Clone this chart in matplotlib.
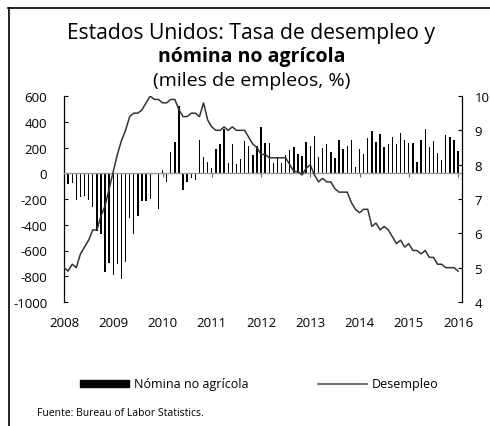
import matplotlib
matplotlib.use('Agg')
import matplotlib.pyplot as plt
from matplotlib.lines import Line2D
from matplotlib.patches import Patch
import numpy as np

plt.rcParams['font.family'] = ['Open Sans', 'DejaVu Sans']
plt.rcParams['axes.unicode_minus'] = False

# Monthly data, Jan 2008 - Jan 2016
year_ticks = [2008, 2009, 2010, 2011, 2012, 2013, 2014, 2015, 2016]
left_ticks = [-1000, -800, -600, -400, -200, 0, 200, 400, 600]
right_ticks = [4, 5, 6, 7, 8, 9, 10]

# Nómina no agrícola (miles de empleos, cambio mensual)
nomina = [
    17, -84, -78, -211, -184, -178, -210, -259, -452, -474, -765, -697,      # 2008
    -791, -703, -823, -686, -351, -470, -329, -212, -219, -200, -7, -279,    # 2009
    28, -69, 163, 243, 522, -133, -70, -34, -52, 257, 123, 88,               # 2010
    42, 188, 225, 346, 77, 225, 69, 110, 248, 209, 141, 209,                 # 2011
    358, 237, 233, 78, 115, 76, 143, 177, 203, 146, 132, 244,                # 2012
    211, 286, 130, 197, 226, 162, 122, 261, 190, 212, 258, 47,               # 2013
    190, 151, 272, 329, 246, 304, 202, 230, 280, 227, 312, 255,              # 2014
    234, 238, 86, 262, 344, 206, 254, 157, 100, 295, 280, 262,               # 2015
    172,                                                                      # 2016
]

# Tasa de desempleo (%)
desempleo = [
    5.0, 4.9, 5.1, 5.0, 5.4, 5.6, 5.8, 6.1, 6.1, 6.5, 6.8, 7.3,   # 2008
    7.8, 8.3, 8.7, 9.0, 9.4, 9.5, 9.5, 9.6, 9.8, 10.0, 9.9, 9.9,  # 2009
    9.8, 9.8, 9.9, 9.9, 9.6, 9.4, 9.4, 9.5, 9.5, 9.4, 9.8, 9.3,   # 2010
    9.1, 9.0, 9.0, 9.1, 9.0, 9.1, 9.0, 9.0, 9.0, 8.8, 8.6, 8.5,   # 2011
    8.3, 8.3, 8.2, 8.2, 8.2, 8.2, 8.2, 8.0, 7.8, 7.8, 7.7, 7.9,   # 2012
    8.0, 7.7, 7.5, 7.6, 7.5, 7.5, 7.3, 7.2, 7.2, 7.2, 6.9, 6.7,   # 2013
    6.6, 6.7, 6.7, 6.2, 6.3, 6.1, 6.2, 6.1, 5.9, 5.7, 5.8, 5.6,   # 2014
    5.7, 5.5, 5.5, 5.4, 5.5, 5.3, 5.3, 5.1, 5.1, 5.0, 5.0, 5.0,   # 2015
    4.9,                                                          # 2016
]

x = 2008 + np.arange(len(nomina)) / 12.0

W, H = 490, 427
fig = plt.figure(figsize=(W / 100, H / 100), dpi=100)

# page border lines (top and left)
fig.add_artist(Line2D([8 / W, 1.0], [1 - 9 / H, 1 - 9 / H], color='black', lw=1.2))
fig.add_artist(Line2D([9 / W, 9 / W], [0, 1 - 9 / H], color='black', lw=1.2))

ax = fig.add_axes([64 / W, 1 - 303 / H, 398 / W, 206 / H])
ax.bar(x, nomina, width=0.028, color='black', zorder=2)
ax.set_xlim(2008, 2016.08)
ax.set_ylim(-1000, 600)
ax.set_yticks(left_ticks)
ax.set_yticklabels([str(v) for v in left_ticks])
ax.tick_params(axis='y', direction='in', length=3, width=0.8, labelsize=9.5, pad=12)
ax.spines['top'].set_visible(False)
ax.spines['right'].set_visible(False)
ax.spines['left'].set_linewidth(0.9)
# zero line acting as x axis
ax.spines['bottom'].set_position(('data', 0))
ax.spines['bottom'].set_color('#9a9a9a')
ax.spines['bottom'].set_linewidth(1.0)
ax.set_xticks(year_ticks)
ax.tick_params(axis='x', direction='out', length=3, width=0.8, color='#666666',
               labelbottom=False)
ax.patch.set_alpha(0)

sec = ax.secondary_xaxis('bottom')
sec.set_xticks(year_ticks)
sec.set_xticklabels([str(y) for y in year_ticks])
sec.tick_params(length=0, labelsize=9.5, pad=10)
sec.spines['bottom'].set_visible(False)

ax2 = ax.twinx()
ax2.plot(x, desempleo, color='#333333', lw=1.1)
ax2.set_ylim(4, 10)
ax2.set_yticks(right_ticks)
ax2.set_yticklabels([str(v) for v in right_ticks])
ax2.tick_params(axis='y', direction='in', length=3, width=0.8, labelsize=9.5, pad=9)
for s in ['top', 'bottom', 'left']:
    ax2.spines[s].set_visible(False)
ax2.spines['right'].set_linewidth(0.9)

# titles
fig.text(251 / W, 1 - 33 / H, 'Estados Unidos: Tasa de desempleo y',
         ha='center', va='center', fontsize=15.2)
fig.text(252 / W, 1 - 57 / H, 'nómina no agrícola',
         ha='center', va='center', fontsize=14, fontweight='bold')
fig.text(252 / W, 1 - 81 / H, '(miles de empleos, %)',
         ha='center', va='center', fontsize=14)

handles = [Patch(facecolor='black', edgecolor='black'),
           Line2D([], [], color='#555555', lw=1.2)]
fig.legend(handles, ['Nómina no agrícola', 'Desempleo'],
           loc='center left', bbox_to_anchor=(80 / W, 1 - 385 / H),
           ncol=2, frameon=False, fontsize=9, handlelength=3.9,
           handleheight=0.5, handletextpad=0.4, columnspacing=5.6,
           borderpad=0, borderaxespad=0)

fig.text(37 / W, 1 - 414 / H, 'Fuente: Bureau of Labor Statistics.',
         ha='left', va='center', fontsize=7.5)

fig.savefig('out.png', dpi=100)
